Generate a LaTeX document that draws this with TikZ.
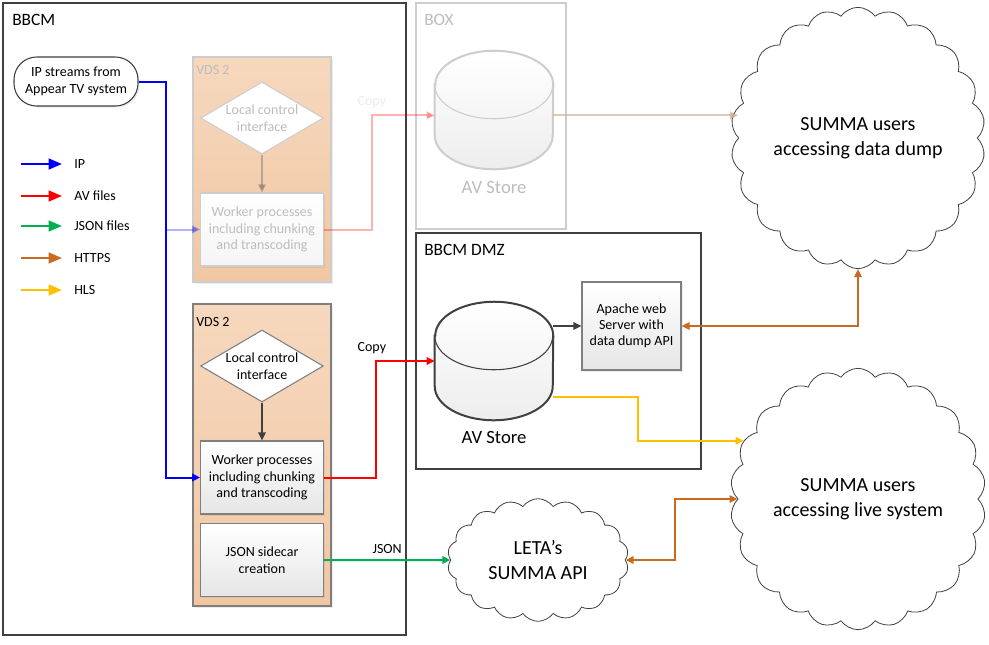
\documentclass[tikz,border=0pt]{standalone}
\usepackage{fontspec}
\setmainfont{Carlito}
\usetikzlibrary{arrows.meta,positioning,calc,shapes.geometric,shapes.symbols,shadows}
\definecolor{ipblue}{HTML}{0000FF}
\definecolor{avred}{HTML}{FF0000}
\definecolor{jsongreen}{HTML}{00B050}
\definecolor{httpsorange}{HTML}{C96A20}
\definecolor{hlsyellow}{HTML}{FFC000}
\definecolor{frame}{HTML}{404040}
\definecolor{boxgray}{HTML}{7F7F7F}
\definecolor{peachtop}{HTML}{F6D8BE}
\definecolor{peachbot}{HTML}{F1C7A3}
\definecolor{ghost}{HTML}{CDCDCD}
\definecolor{ghosttext}{HTML}{BDBDBD}
\tikzset{
  >={Triangle[length=6pt,width=5.5pt]},
  % rammar
  zone/.style={draw=frame,line width=0.9pt,fill=white,inner sep=0pt},
  ghostzone/.style={draw=ghost,line width=0.9pt,fill=white,inner sep=0pt},
  ztitle/.style={anchor=west,inner sep=0pt,font=\fontsize{13}{15}\selectfont},
  vds/.style={draw=boxgray,line width=0.8pt,top color=peachtop,bottom color=peachbot,
              inner sep=0pt,drop shadow={opacity=0.15,shadow xshift=1.5pt,shadow yshift=-1.5pt}},
  vdstitle/.style={anchor=west,inner sep=0pt,font=\fontsize{10.5}{12}\selectfont},
  % processer
  proc/.style={rectangle,draw=boxgray,line width=0.8pt,top color=white,bottom color=black!10,
               align=center,inner sep=1pt,font=\fontsize{10.5}{12.4}\selectfont,
               drop shadow={opacity=0.15,shadow xshift=1.2pt,shadow yshift=-1.2pt}},
  ghostproc/.style={proc,draw=ghost,top color=white,bottom color=black!4,text=ghosttext},
  decide/.style={diamond,aspect=1.7,draw=boxgray,line width=0.8pt,fill=white,align=center,
                 inner sep=0pt,minimum width=92pt,minimum height=54pt,
                 font=\fontsize{10.5}{12.4}\selectfont},
  ghostdecide/.style={decide,draw=ghost,text=ghosttext},
  source/.style={rectangle,rounded corners=17pt,draw=frame,line width=0.8pt,fill=white,
                 align=center,minimum width=93pt,minimum height=36.75pt,
                 font=\fontsize{10.5}{12.4}\selectfont,
                 drop shadow={opacity=0.15,shadow xshift=1.2pt,shadow yshift=-1.2pt}},
  storespot/.style={rectangle,inner sep=0pt,minimum width=88.5pt,minimum height=88.5pt},
  storebody/.style={line width=1.5pt,top color=white,bottom color=black!7},
  storelbl/.style={font=\fontsize{14}{16}\selectfont,inner sep=0pt},
  users/.style={cloud,cloud puffs=22,cloud puff arc=110,cloud ignores aspect,draw=frame,
                line width=0.6pt,fill=white,align=center,font=\fontsize{15}{18.5}\selectfont},
  % pilar
  flow/.style={->,line width=1.5pt},
  ipline/.style={flow,draw=ipblue},
  avline/.style={flow,draw=avred},
  jsonline/.style={flow,draw=jsongreen},
  httpsline/.style={flow,draw=httpsorange},
  hlsline/.style={flow,draw=hlsyellow},
  ctl/.style={flow,draw=frame},
  faint/.style={opacity=0.3},
  lbl/.style={font=\fontsize{10.5}{12}\selectfont,inner sep=1pt},
  key/.style={anchor=west,font=\fontsize{10.5}{12}\selectfont,inner sep=0pt},
  keyarrow/.style={-{Triangle[length=10pt,width=8pt]},line width=1.8pt},
}

\begin{document}
\begin{tikzpicture}[x=0.75pt,y=-0.75pt]
\useasboundingbox (0,0) rectangle (989,644);
  % zoner
  \node[zone,minimum width=302.25pt,minimum height=474pt] (bbcm) at (204.5,319) {};
  \node[ztitle] (bbcmtitle) at (12,20) {BBCM};
  \node[ghostzone,minimum width=112.5pt,minimum height=169.5pt] (box) at (491,116) {};
  \node[ztitle,text=ghosttext] (boxtitle) at (424,20) {BOX};
  \node[zone,minimum width=213.75pt,minimum height=177pt] (dmz) at (558.5,351) {};
  \node[ztitle] (dmztitle) at (424,250) {BBCM DMZ};

  % teckenförklaring
  \foreach \y/\col/\txt [count=\i] in {164/ipblue/IP,196/avred/AV files,226/jsongreen/JSON files,
                                       258/httpsorange/HTTPS,290/hlsyellow/HLS} {
    \node[key] (key\i) at (74,\y) {\txt};
    \draw[keyarrow,draw=\col] ($(key\i.west)+(-53,0)$) -- ++(41,0);
  }

  \node[source] (ipsrc) at (76,81.5) {IP streams from\\Appear TV system};

  % VDS 2 (blek)
  \node[vds,draw=ghost,minimum width=103.5pt,minimum height=168.75pt] (vdsa) at (262,169.5) {};
  \node[vdstitle,text=ghosttext] (vdsatitle) at (196,70) {VDS 2};
  \node[ghostdecide] (lcia) at (262,118) {Local control\\interface};
  \node[ghostproc,minimum width=92pt,minimum height=54.75pt] (workera) at (262,229.5)
    {Worker processes\\including chunking\\and transcoding};

  % VDS 2
  \node[vds,minimum width=103.5pt,minimum height=226.5pt] (vdsb) at (262,455) {};
  \node[vdstitle] (vdsbtitle) at (196,322) {VDS 2};
  \node[decide] (lcib) at (262,366) {Local control\\interface};
  \node[proc,minimum width=92pt,minimum height=54.75pt] (workerb) at (262,477.5)
    {Worker processes\\including chunking\\and transcoding};
  \node[proc,minimum width=92pt,minimum height=54.75pt] (sidecar) at (262,560)
    {JSON sidecar\\creation};

  % lagring
  \node[storespot] (boxstore) at (494,110) {};
  \node[storelbl,text=ghosttext,below=9pt of boxstore] (boxstorelbl) {AV Store};
  \node[storespot] (dmzstore) at (494,361) {};
  \node[storelbl,below=8pt of dmzstore] (dmzstorelbl) {AV Store};
  \foreach \s/\c in {boxstore/ghost,dmzstore/frame} {
    \draw[storebody,draw=\c] ([yshift=-25.5pt]\s.north west)
      -- ([yshift=25.5pt]\s.south west)
      arc[start angle=180,end angle=360,x radius=44.25pt,y radius=25.5pt]
      -- ([yshift=-25.5pt]\s.north east)
      arc[start angle=0,end angle=180,x radius=44.25pt,y radius=25.5pt] -- cycle;
    \draw[draw=\c,line width=0.8pt] ([yshift=-25.5pt]\s.north west)
      arc[start angle=180,end angle=360,x radius=44.25pt,y radius=25.5pt];
  }
  \coordinate (boxin) at ([yshift=-4pt]boxstore.west);
  \coordinate (boxout) at ([yshift=-4pt]boxstore.east);
  \node[proc,font=\fontsize{10.5}{12}\selectfont,minimum width=74.25pt,minimum height=66pt]
    (apache) at (631.5,326) {Apache web\\Server with\\data dump API};

  % moln
  \node[users,minimum width=186pt,minimum height=196pt] (dumpusers) at (858,138)
    {SUMMA users\\accessing data dump};
  \node[users,minimum width=188pt,minimum height=196pt] (liveusers) at (858,499)
    {SUMMA users\\accessing live system};
  \node[users,cloud puffs=18,minimum width=136pt,minimum height=92pt] (leta) at (538,560)
    {LETA’s\\SUMMA API};

  % flöden
  \draw[ipline,faint] (ipsrc.east) -- ++(27,0) |- (workera.west);
  \draw[ipline] (ipsrc.east) -- ++(27,0) |- (workerb.west);
  \draw[ctl,faint] (lcia.south) -- (workera.north);
  \draw[ctl] (lcib.south) -- (workerb.north);
  \draw[avline,faint] (workera.east) -- ++(48,0) |- node[lbl,pos=0.5,above=4pt,text=ghosttext] {Copy} (boxin);
  \draw[avline] (workerb.east) -- ++(52,0) |- node[lbl,pos=0.5,above=4pt,xshift=-3pt] {Copy} (dmzstore.west);
  \draw[ctl,draw=httpsorange!40!ghost,opacity=0.6] (boxout) -- (dumpusers.west |- boxout);
  \draw[ctl] (dmzstore.east |- apache.west) -- (apache.west);
  \draw[httpsline,<->] (apache.east) -| (dumpusers.south);
  \draw[hlsline] ($(dmzstore.east)+(0,36)$) -- ++(85,0) |- (liveusers.153);
  \draw[jsonline] (sidecar.east) -- node[lbl,above=3pt] {JSON} (leta.west);
  \draw[httpsline,<->] (leta.east) -- ++(49,0) |- (liveusers.west);
\end{tikzpicture}
\end{document}
